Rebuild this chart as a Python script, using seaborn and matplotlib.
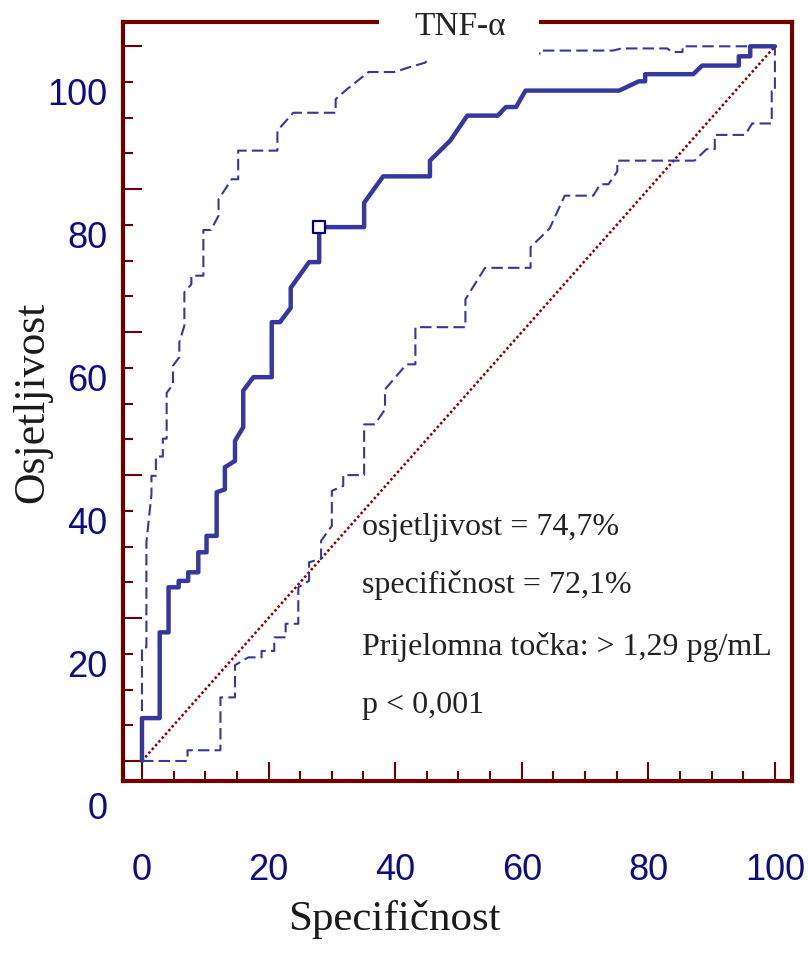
import matplotlib
matplotlib.use("Agg")
import matplotlib.pyplot as plt
import matplotlib.transforms as mtransforms
from matplotlib.patches import Rectangle
from matplotlib.ticker import MultipleLocator
import seaborn as sns

# ROC krivulja (x = 100 - specificnost, y = osjetljivost)
roc_x = [0, 0, 2.8, 2.8, 4.2, 4.2, 5.8, 5.8, 7.3, 7.3, 8.9, 8.9, 10.2, 10.2, 11.8, 11.8,
         13.1, 13.1, 14.7, 14.7, 16.0, 16.0, 17.6, 20.5, 20.5, 21.8, 23.5, 23.5, 26.4, 28.0,
         28.0, 35.1, 35.1, 38.1, 45.5, 45.5, 48.7, 51.4, 56.2, 57.5, 59.1, 60.6, 75.4, 78.5,
         79.5, 79.5, 87.1, 88.5, 94.3, 94.3, 96.1, 96.1, 100]
roc_y = [0, 6.0, 6.0, 18.0, 18.0, 24.3, 24.3, 25.2, 25.2, 26.4, 26.4, 29.2, 29.2, 31.5, 31.5, 37.6,
         38.0, 41.1, 42.0, 44.8, 46.7, 51.8, 53.7, 53.7, 61.4, 61.4, 63.4, 66.2, 69.8, 69.8,
         74.7, 74.7, 78.1, 81.8, 81.8, 84.0, 86.8, 90.3, 90.3, 91.5, 91.5, 93.8, 93.8, 95.1,
         95.1, 96.1, 96.1, 97.3, 97.3, 98.6, 98.6, 100, 100]

# gornja granica intervala pouzdanosti
gornja_x = [0, 0, 0.7, 0.7, 1.5, 1.5, 2.2, 2.2, 3.3, 3.3, 3.9, 3.9, 4.9, 4.9, 5.9, 5.9, 6.7, 6.7,
            7.8, 7.8, 9.7, 9.7, 10.9, 12.1, 12.1, 14.2, 15.2, 15.2, 21.4, 21.4, 23.9, 30.6, 30.6,
            32.4, 35.8, 39.9, 42.0, 44.7, 46.5, 63.3, 63.3, 74.4, 75.8, 83.0, 83.7, 85.4, 85.4, 100]
gornja_y = [0, 15.9, 15.9, 30.6, 37.3, 39.9, 39.9, 42.6, 42.6, 45.1, 45.1, 51.5, 52.7, 55.3, 56.5,
            58.6, 60.9, 65.6, 66.7, 67.9, 67.9, 74.3, 74.3, 76.3, 78.6, 81.4, 81.4, 85.4, 85.4,
            88.2, 90.7, 90.7, 92.6, 94.0, 96.4, 96.4, 97.0, 97.7, 99.0, 99.0, 99.4, 99.4, 99.7,
            99.7, 99.2, 99.2, 100, 100]

# donja granica intervala pouzdanosti
donja_x = [0, 7.2, 7.2, 12.4, 12.4, 14.7, 14.7, 16.8, 18.9, 18.9, 20.9, 20.9, 22.7, 22.7, 24.7,
           24.7, 26.4, 26.4, 28.3, 28.3, 30.0, 30.0, 31.8, 31.8, 35.1, 35.1, 36.8, 38.4, 38.4,
           41.8, 43.2, 43.2, 51.1, 51.1, 54.2, 61.4, 61.4, 64.4, 66.8, 71.3, 72.4, 73.7, 75.1,
           75.1, 87.3, 89.2, 90.5, 90.5, 95.3, 96.4, 99.5, 99.5, 100, 100]
donja_y = [0, 0, 1.5, 1.5, 8.9, 8.9, 13.4, 14.5, 14.5, 15.4, 15.4, 17.3, 17.3, 19.2, 19.2,
           24.3, 25.2, 27.8, 28.3, 30.8, 32.9, 37.8, 38.5, 40.0, 40.0, 47.1, 47.1, 49.2, 52.0,
           55.5, 55.5, 60.7, 60.7, 64.6, 69.0, 69.0, 71.9, 74.5, 79.1, 79.1, 80.7, 80.7, 82.5,
           84.0, 84.0, 85.6, 85.6, 87.6, 87.6, 89.2, 89.2, 93.7, 93.7, 100]

# prijelomna tocka
tocka_x = [27.9]
tocka_y = [74.7]

tekstovi = ["osjetljivost = 74,7%", "specifičnost = 72,1%",
            "Prijelomna točka: > 1,29 pg/mL", "p < 0,001"]
tekst_y = [31.7, 23.6, 15.0, 6.9]

plava = "#3638a0"
tamnoplava = "#0c0c85"
bordo = "#6e0000"

sns.set_theme(style="white")
plt.rcParams['font.family'] = ['Liberation Serif', 'DejaVu Serif']

fig = plt.figure(figsize=(8.08, 9.54), dpi=100)
ax = fig.add_axes([0.1522, 0.1803, 0.828, 0.7956])

sns.lineplot(x=[0, 100], y=[0, 100], sort=False, estimator=None, ax=ax,
             color="#8a0000", lw=1.8, linestyle=(0, (1, 1)))
sns.lineplot(x=gornja_x, y=gornja_y, sort=False, estimator=None, ax=ax,
             color=plava, lw=1.5, linestyle=(0, (5.5, 2.5)))
sns.lineplot(x=donja_x, y=donja_y, sort=False, estimator=None, ax=ax,
             color=plava, lw=1.5, linestyle=(0, (5.5, 2.5)))
sns.lineplot(x=roc_x, y=roc_y, sort=False, estimator=None, ax=ax,
             color=plava, lw=3.2)
sns.scatterplot(x=tocka_x, y=tocka_y, ax=ax, marker="s", s=75, facecolor="white",
                edgecolor="#000080", linewidth=1.6, zorder=5)

ax.set_xlim(-3.0, 102.7)
ax.set_ylim(-2.8, 103.4)

for s in ax.spines.values():
    s.set_color(bordo)
    s.set_linewidth(3)

ax.set_xticks(range(0, 101, 20))
ax.set_yticks(range(0, 101, 20))
ax.xaxis.set_minor_locator(MultipleLocator(5))
ax.yaxis.set_minor_locator(MultipleLocator(5))
ax.tick_params(which="both", direction="in", color=bordo, width=1.5,
               left=True, bottom=True, right=False, top=False)
ax.tick_params(which="major", length=14)
ax.tick_params(which="minor", length=7)
ax.tick_params(axis="x", which="major", pad=51, labelsize=26, labelcolor=tamnoplava)
ax.tick_params(axis="y", which="major", pad=11, labelsize=26, labelcolor=tamnoplava)

pomak = mtransforms.ScaledTranslation(0, -0.44, fig.dpi_scale_trans)
for lab in ax.get_yticklabels():
    lab.set_transform(lab.get_transform() + pomak)
    lab.set_fontfamily("Liberation Sans")
for lab in ax.get_xticklabels():
    lab.set_fontfamily("Liberation Sans")

ax.set_xlabel("Specifičnost", fontsize=31, color="#1a1a1a")
ax.set_ylabel("Osjetljivost", fontsize=31.5, color="#1a1a1a")
ax.xaxis.set_label_coords(0.405, -0.156)
ax.yaxis.set_label_coords(-0.106, 0.50)

for t, y in zip(tekstovi, tekst_y):
    ax.text(34.8, y, t, fontsize=23, color="#222222", va="baseline", ha="left")

# bijela podloga naslova preko okvira
ax.add_patch(Rectangle((0.383, 0.950), 0.239, 0.08, transform=ax.transAxes,
                       facecolor="white", edgecolor="none", clip_on=False, zorder=3))
ax.text(0.504, 0.984, "TNF-α", transform=ax.transAxes, ha="center", va="baseline",
        fontsize=24, color="#222222", zorder=6)

fig.savefig("out.png", dpi=100)
